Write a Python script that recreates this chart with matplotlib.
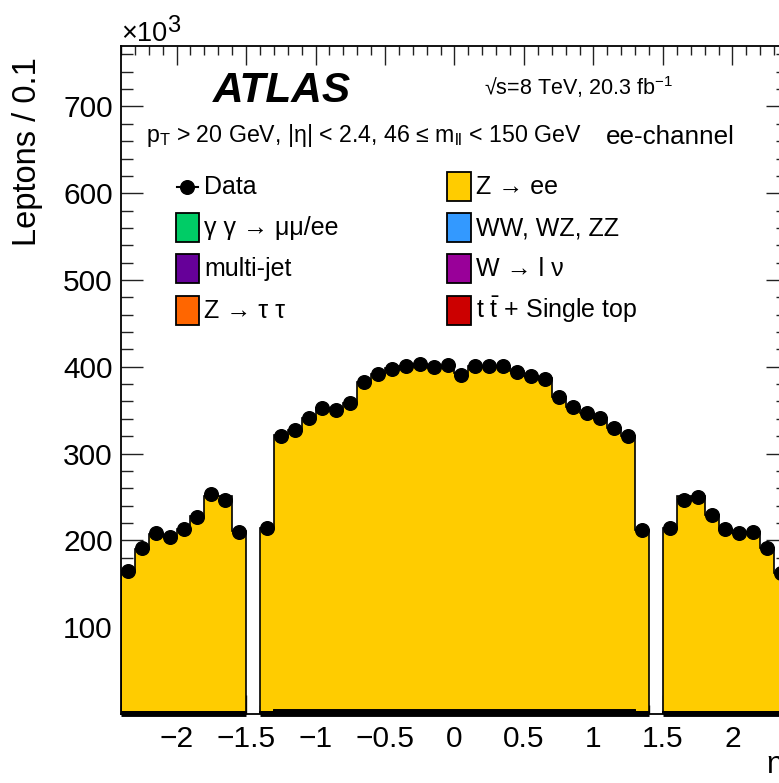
import numpy as np
import matplotlib
matplotlib.use("Agg")
import matplotlib.pyplot as plt
from matplotlib.patches import Rectangle
from matplotlib.lines import Line2D

plt.rcParams['font.family'] = ['Liberation Sans', 'DejaVu Sans']
plt.rcParams['mathtext.fontset'] = 'custom'
plt.rcParams['mathtext.rm'] = 'Liberation Sans'
plt.rcParams['mathtext.it'] = 'Liberation Sans:italic'
plt.rcParams['mathtext.bf'] = 'Liberation Sans:bold'

# ---- binning: eta from -2.4 to 2.4 in steps of 0.1 (crack bins are empty) ----
eta_edges = np.round(np.arange(-2.4, 2.4001, 0.1), 2)

# Data, leptons per bin in units of 10^3 (nan = calorimeter crack)
data = [164.8, 190.6, 209.0, 203.3, 213.6, 227.0, 253.0, 246.0, 210.0,
        np.nan,
        214.3, 320.7, 326.8, 341.5, 353.0, 350.7, 358.3, 382.5, 392.0, 397.9,
        400.5, 402.9, 399.8, 402.5,
        390.2, 401.4, 401.0, 401.4, 394.0, 389.0, 386.4, 365.0, 353.7, 346.8,
        341.0, 329.5, 320.0, 211.7,
        np.nan,
        214.0, 246.0, 250.0, 229.0, 213.6, 208.0, 209.7, 191.0, 162.0]

# Z -> ee signal prediction (10^3)
zee = [162.5, 188.0, 205.0, 202.0, 211.0, 226.0, 248.5, 248.5, 208.5,
       0.0,
       211.5, 316.5, 323.0, 337.0, 347.5, 347.0, 354.0, 378.0, 387.0, 393.5,
       396.5, 398.0, 396.5, 396.0,
       388.0, 396.5, 396.5, 396.0, 390.0, 385.0, 382.0, 361.0, 349.5, 342.5,
       337.0, 325.0, 315.5, 209.0,
       0.0,
       211.5, 248.5, 248.5, 226.5, 211.0, 206.0, 207.0, 188.5, 160.0]

# Backgrounds (10^3)
multijet = [1.1, 1.1, 1.2, 1.2, 1.2, 1.2, 1.3, 1.3, 1.2,
            0.0,
            1.2, 1.6, 1.6, 1.6, 1.7, 1.7, 1.7, 1.7, 1.7, 1.7, 1.7, 1.7, 1.7, 1.7,
            1.7, 1.7, 1.7, 1.7, 1.7, 1.7, 1.7, 1.7, 1.7, 1.6, 1.6, 1.6, 1.6, 1.2,
            0.0,
            1.2, 1.3, 1.3, 1.2, 1.2, 1.2, 1.2, 1.1, 1.1]
ttbar = [0.3, 0.3, 0.3, 0.3, 0.3, 0.4, 0.4, 0.4, 0.4,
         0.0,
         0.4, 1.0, 1.0, 1.0, 1.1, 1.1, 1.1, 1.1, 1.1, 1.1, 1.1, 1.1, 1.1, 1.1,
         1.1, 1.1, 1.1, 1.1, 1.1, 1.1, 1.1, 1.1, 1.1, 1.0, 1.0, 1.0, 1.0, 0.4,
         0.0,
         0.4, 0.4, 0.4, 0.4, 0.3, 0.3, 0.3, 0.3, 0.3]
wlnu = [0.3, 0.3, 0.3, 0.3, 0.3, 0.3, 0.3, 0.3, 0.3,
        0.0,
        0.3, 0.5, 0.5, 0.5, 0.5, 0.5, 0.5, 0.5, 0.5, 0.5, 0.5, 0.5, 0.5, 0.5,
        0.5, 0.5, 0.5, 0.5, 0.5, 0.5, 0.5, 0.5, 0.5, 0.5, 0.5, 0.5, 0.5, 0.3,
        0.0,
        0.3, 0.3, 0.3, 0.3, 0.3, 0.3, 0.3, 0.3, 0.3]
diboson = [0.2, 0.2, 0.2, 0.2, 0.2, 0.2, 0.2, 0.2, 0.2,
           0.0,
           0.2, 0.5, 0.5, 0.5, 0.5, 0.5, 0.5, 0.5, 0.5, 0.5, 0.5, 0.5, 0.5, 0.5,
           0.5, 0.5, 0.5, 0.5, 0.5, 0.5, 0.5, 0.5, 0.5, 0.5, 0.5, 0.5, 0.5, 0.2,
           0.0,
           0.2, 0.2, 0.2, 0.2, 0.2, 0.2, 0.2, 0.2, 0.2]
ztautau = [0.3, 0.3, 0.3, 0.3, 0.3, 0.3, 0.3, 0.3, 0.3,
           0.0,
           0.3, 0.6, 0.6, 0.6, 0.6, 0.6, 0.6, 0.6, 0.6, 0.6, 0.6, 0.6, 0.6, 0.6,
           0.6, 0.6, 0.6, 0.6, 0.6, 0.6, 0.6, 0.6, 0.6, 0.6, 0.6, 0.6, 0.6, 0.3,
           0.0,
           0.3, 0.3, 0.3, 0.3, 0.3, 0.3, 0.3, 0.3, 0.3]
gamgam = [0.2, 0.2, 0.2, 0.2, 0.2, 0.2, 0.2, 0.2, 0.2,
          0.0,
          0.2, 0.3, 0.3, 0.3, 0.3, 0.3, 0.3, 0.3, 0.3, 0.3, 0.3, 0.3, 0.3, 0.3,
          0.3, 0.3, 0.3, 0.3, 0.3, 0.3, 0.3, 0.3, 0.3, 0.3, 0.3, 0.3, 0.3, 0.2,
          0.0,
          0.2, 0.2, 0.2, 0.2, 0.2, 0.2, 0.2, 0.2, 0.2]

y_ticks = [100, 200, 300, 400, 500, 600, 700]
x_ticks = [-2, -1.5, -1, -0.5, 0, 0.5, 1, 1.5, 2]
x_ticklabels = ['\u22122', '\u22121.5', '\u22121', '\u22120.5', '0', '0.5', '1', '1.5', '2']

# stacking order bottom -> top, with fill colours
stack = [
    ("multi-jet", multijet, "#660099"),
    ("t $\\bar{\\mathrm{t}}$ + Single top", ttbar, "#CC0000"),
    ("W \u2192 l \u03bd", wlnu, "#990099"),
    ("WW, WZ, ZZ", diboson, "#3399FF"),
    ("Z \u2192 \u03c4 \u03c4", ztautau, "#FF6600"),
    ("\u03b3 \u03b3 \u2192 \u03bc\u03bc/ee", gamgam, "#00CC66"),
    ("Z \u2192 ee", zee, "#FFCC00"),
]

W, H = 779, 783
fig = plt.figure(figsize=(W / 100, H / 100), dpi=100)
ax_l, ax_r, ax_t, ax_b = 121, 788, 45.7, 713.9
ax = fig.add_axes([ax_l / W, 1 - ax_b / H, (ax_r - ax_l) / W, (ax_b - ax_t) / H])

# contiguous eta regions (outline is drawn per region so the crack stays open)
regions = [(0, 9), (10, 38), (39, 48)]

base = np.zeros(len(zee))
for name, vals, col in stack:
    vals = np.asarray(vals, dtype=float)
    top = base + vals
    for i0, i1 in regions:
        ax.stairs(top[i0:i1], eta_edges[i0:i1 + 1], baseline=base[i0:i1],
                  fill=True, facecolor=col, edgecolor='none', zorder=2)
        ax.stairs(top[i0:i1], eta_edges[i0:i1 + 1], baseline=0,
                  fill=False, color='black', lw=1.2, zorder=3)
    base = top

# bottom edge of the stacked histograms
for i0, i1 in regions:
    ax.plot([eta_edges[i0], eta_edges[i1]], [0, 0], color='black', lw=3.5,
            zorder=3, solid_capstyle='butt', clip_on=False)

centers = 0.5 * (eta_edges[:-1] + eta_edges[1:])
ax.plot(centers, data, 'o', color='black', ms=9.8, zorder=5)

ax.set_xlim(-2.4, 2.4)
ax.set_ylim(0, 770)

ax.set_xticks(x_ticks)
ax.set_xticklabels(x_ticklabels)
ax.set_xticks(np.round(np.arange(-2.4, 2.41, 0.1), 2), minor=True)
ax.set_yticks(y_ticks)
ax.set_yticks(np.arange(0, 770, 20), minor=True)

ax.tick_params(axis='both', which='both', direction='in', top=True, right=True,
               colors='#222222', labelcolor='black', width=1.0)
ax.tick_params(axis='x', which='major', length=14, labelsize=21.5, pad=8)
ax.tick_params(axis='x', which='minor', length=6.5)
ax.tick_params(axis='y', which='major', length=15.5, labelsize=21.5, pad=6)
ax.tick_params(axis='y', which='minor', length=8.5)
for s in ax.spines.values():
    s.set_linewidth(1.3)
    s.set_color('black')

ax.set_ylabel('Leptons / 0.1', fontsize=23.5, labelpad=0)
ax.yaxis.set_label_coords(-0.1165, 0.841)


def fx(x):
    return x / W


def fy(y):
    return 1 - y / H


# axis multiplier and cropped axis title
fig.text(fx(121), fy(40.7), '\u00d710', fontsize=19.5, va='baseline', ha='left')
fig.text(fx(167.5), fy(31.5), '3', fontsize=17, va='baseline', ha='left')
fig.text(fx(766), fy(773), '\u03b7', fontsize=22, va='baseline', ha='left')

# labels inside the frame
fig.text(fx(213), fy(101.7), 'ATLAS', fontsize=30.5, fontweight='bold',
         fontstyle='italic', va='baseline', ha='left')
fig.text(fx(484), fy(95), '\u221as=8 TeV, 20.3 fb$^{-1}$', fontsize=15.5,
         va='baseline', ha='left')
fig.text(fx(146), fy(142), 'p$_{\\mathrm{T}}$ > 20 GeV, |\u03b7| < 2.4, 46 \u2264 m$_{\\mathrm{ll}}$ < 150 GeV',
         fontsize=16.7, va='baseline', ha='left')
fig.text(fx(606), fy(144), 'ee-channel', fontsize=18.7, va='baseline', ha='left')

# legend, drawn entry by entry
row_y = [186.7, 227.3, 268.3, 310.7]
col_box = [175.7, 447.3]
box_w, box_h = 23.6, 29
leg_fs = 18
colors = {name: col for name, _, col in stack}

left_entries = [None,
                "\u03b3 \u03b3 \u2192 \u03bc\u03bc/ee",
                "multi-jet",
                "Z \u2192 \u03c4 \u03c4"]
right_entries = ["Z \u2192 ee",
                 "WW, WZ, ZZ",
                 "W \u2192 l \u03bd",
                 "t $\\bar{\\mathrm{t}}$ + Single top"]

for c, entries in enumerate([left_entries, right_entries]):
    for r, name in enumerate(entries):
        yc = row_y[r]
        if name is None:
            fig.add_artist(Line2D([fx(176.7), fx(198)], [fy(yc), fy(yc)],
                                  color='black', lw=1.5))
            fig.add_artist(Line2D([fx(187.3)], [fy(yc)], marker='o', color='black',
                                  ms=9.8, lw=0))
            label = 'Data'
        else:
            x0 = col_box[c]
            fig.add_artist(Rectangle((fx(x0), fy(yc + box_h / 2)), box_w / W, box_h / H,
                                     facecolor=colors[name], edgecolor='black', lw=1.3,
                                     transform=fig.transFigure))
            label = name
        fig.text(fx(col_box[c] + 28.5), fy(yc + 7.8), label, fontsize=leg_fs,
                 va='baseline', ha='left')

fig.savefig('out.png', dpi=100)
